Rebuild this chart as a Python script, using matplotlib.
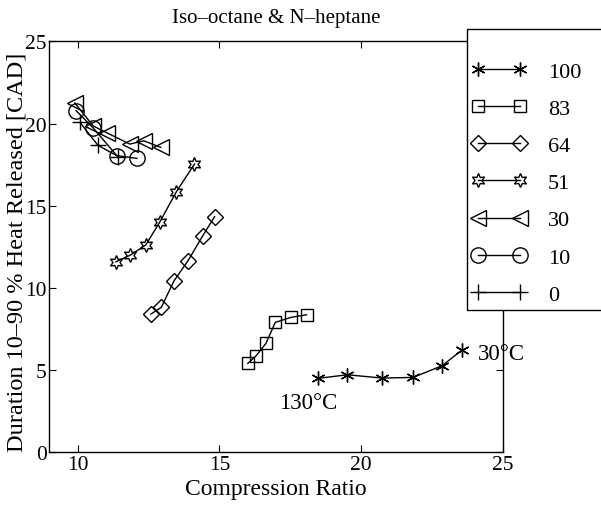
import matplotlib.pyplot as plt
from matplotlib.patches import Rectangle

plt.rcParams['font.family'] = ['Liberation Serif', 'DejaVu Serif']

# octane number of the fuel blend -> (compression ratio, duration 10-90 %)
labels = ['100', '83', '64', '51', '30', '10', '0']
cr_100 = [18.46, 19.51, 20.74, 21.83, 22.85, 23.55]
dur_100 = [4.50, 4.72, 4.52, 4.56, 5.27, 6.22]
cr_83 = [16.00, 16.29, 16.64, 16.97, 17.52, 18.07]
dur_83 = [5.41, 5.87, 6.63, 7.91, 8.21, 8.37]
cr_64 = [12.58, 12.95, 13.40, 13.89, 14.41, 14.83]
dur_64 = [8.41, 8.82, 10.44, 11.65, 13.17, 14.34]
cr_51 = [11.35, 11.86, 12.40, 12.89, 13.48, 14.12]
dur_51 = [11.59, 12.00, 12.61, 13.99, 15.85, 17.54]
cr_30 = [9.90, 10.55, 11.05, 11.84, 12.33, 12.93]
dur_30 = [21.25, 19.85, 19.42, 18.75, 18.95, 18.55]
cr_10 = [9.95, 10.55, 11.38, 12.09]
dur_10 = [20.78, 19.73, 18.05, 17.88]
cr_0 = [10.08, 10.72, 11.44]
dur_0 = [20.07, 18.67, 17.99]

fig = plt.figure(figsize=(6.01, 5.10), dpi=100)
ax = fig.add_axes([0.082, 0.111, 0.755, 0.806])

style = dict(color='black', linewidth=1.0, markeredgewidth=1.0,
             markerfacecolor='none', markeredgecolor='black')
ax.plot(cr_100, dur_100, marker=(6, 2, 0), markersize=10, label=labels[0], **style)
ax.plot(cr_83, dur_83, marker='s', markersize=8.5, label=labels[1], **style)
ax.plot(cr_64, dur_64, marker='D', markersize=8.5, label=labels[2], **style)
ax.plot(cr_51, dur_51, marker=(6, 1, 0), markersize=10, label=labels[3], **style)
ax.plot(cr_30, dur_30, marker='<', markersize=12, label=labels[4], **style)
ax.plot(cr_10, dur_10, marker='o', markersize=11, label=labels[5], **style)
ax.plot(cr_0, dur_0, marker='+', markersize=12, label=labels[6], **style)

ax.set_xlim(9, 25)
ax.set_ylim(0, 25)
ax.set_xticks([10, 15, 20, 25])
ax.set_yticks([0, 5, 10, 15, 20, 25])
ax.tick_params(direction='in', length=5, width=0.8, top=True, right=True,
               labelsize=15.5, pad=2)
for s in ax.spines.values():
    s.set_linewidth(1.0)

ax.set_title('Iso\u2013octane & N\u2013heptane', fontsize=15, pad=14)
ax.set_xlabel('Compression Ratio', fontsize=17)
ax.xaxis.set_label_coords(0.5, -0.062)
ax.set_ylabel('Duration 10\u201390 % Heat Released [CAD]', fontsize=17.5)
ax.yaxis.set_label_coords(-0.049, 0.49)

ax.text(18.13, 3.06, '130\u00b0C', fontsize=16.5, ha='center', va='center')
ax.text(24.1, 6.0, '30\u00b0C', fontsize=16.5, ha='left', va='center', clip_on=False)

# legend box sticking out past the right edge
W, H = 601.0, 510.0
fig.patches.append(Rectangle((467 / W, 1 - 311 / H), 0.4, (311 - 30) / H,
                             transform=fig.transFigure, facecolor='white',
                             edgecolor='black', linewidth=1.0, zorder=3))
leg = fig.legend(loc='upper left', bbox_to_anchor=(471 / W, 1 - 62 / H),
                 frameon=False, numpoints=2, fontsize=16, handlelength=2.5,
                 handletextpad=0.95, labelspacing=0.75, borderpad=0,
                 borderaxespad=0)
leg.set_zorder(4)

fig.savefig('out.png', dpi=100)
